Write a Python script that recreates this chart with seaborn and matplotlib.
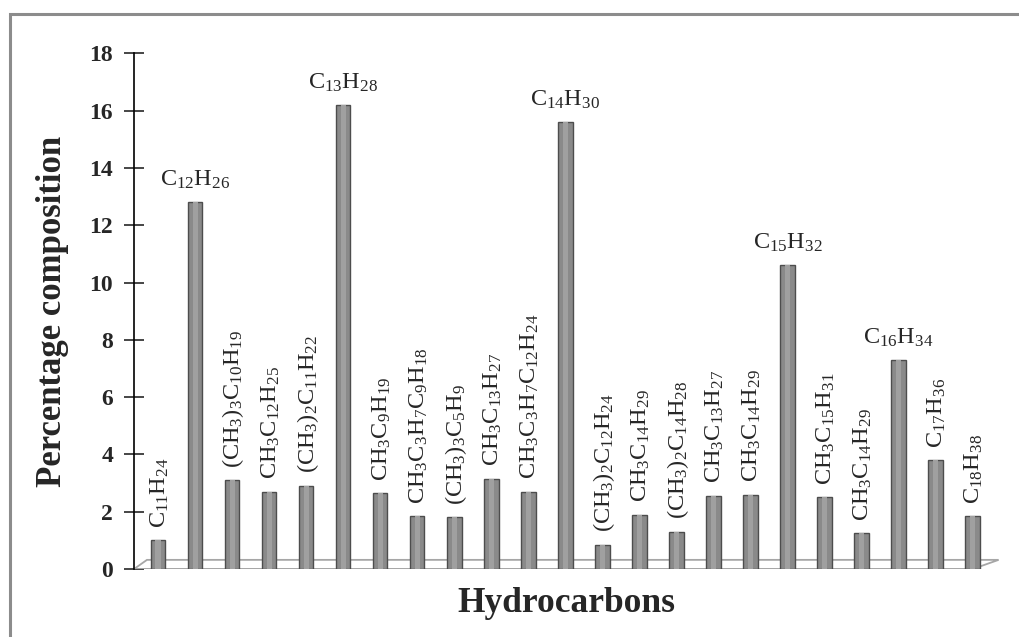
import re
import numpy as np
import pandas as pd
import seaborn as sns
import matplotlib.pyplot as plt
from matplotlib.patches import Rectangle, Polygon

# hydrocarbon composition (percent)
compounds = ['C11H24', 'C12H26', '(CH3)3C10H19', 'CH3C12H25', '(CH3)2C11H22',
             'C13H28', 'CH3C9H19', 'CH3C3H7C9H18', '(CH3)3C5H9', 'CH3C13H27',
             'CH3C3H7C12H24', 'C14H30', '(CH3)2C12H24', 'CH3C14H29', '(CH3)2C14H28',
             'CH3C13H27', 'CH3C14H29', 'C15H32', 'CH3C15H31', 'CH3C14H29',
             'C16H34', 'C17H36', 'C18H38']
percent = [1.0, 12.8, 3.1, 2.7, 2.9,
           16.2, 2.65, 1.85, 1.8, 3.15,
           2.7, 15.6, 0.85, 1.9, 1.3,
           2.55, 2.6, 10.6, 2.5, 1.25,
           7.3, 3.8, 1.85]
# labels written flat above the bar (the n-alkanes), the rest run vertical
flat_labels = ['C12H26', 'C13H28', 'C14H30', 'C15H32', 'C16H34']
y_ticks = list(range(0, 19, 2))

sns.set_style('white')
plt.rcParams['font.family'] = ['Liberation Serif', 'DejaVu Serif']
plt.rcParams['mathtext.fontset'] = 'custom'
plt.rcParams['mathtext.rm'] = 'Liberation Serif'
plt.rcParams['mathtext.it'] = 'Liberation Serif:italic'
plt.rcParams['mathtext.bf'] = 'Liberation Serif:bold'


def to_math(formula):
    """Turn digit runs into subscripts for mathtext"""
    sub = re.sub(r'(\d+)', r'_{\1}', formula)
    return r'$\mathrm{' + sub + '}$'


df = pd.DataFrame({'pos': [str(i) for i in range(len(compounds))],
                   'compound': compounds, 'percent': percent})

fig = plt.figure(figsize=(10.19, 6.37), dpi=100)
ax = fig.add_axes([0.1315, 0.1067, 0.8485, 0.8096])

# 3D-looking floor under the bars
n = len(compounds)
floor = Polygon([[-0.65, 0], [n - 0.65 - 0.35, 0], [n - 0.3, 0.32], [-0.3, 0.32]],
                closed=True, facecolor='white', edgecolor='#a6a6a6', lw=1.3, zorder=1)
ax.add_patch(floor)

sns.barplot(data=df, x='pos', y='percent', color='#8a8a8a', width=0.39,
            edgecolor='#4d4d4d', linewidth=1.0, saturation=1, ax=ax, zorder=3)
# lighter strip to give the bars a cylinder look
sns.barplot(data=df, x='pos', y='percent', color='#a0a0a0', width=0.14,
            linewidth=0, saturation=1, ax=ax, zorder=4)

for i, (name, val) in enumerate(zip(compounds, percent)):
    if name in flat_labels:
        ax.annotate(to_math(name), (i, val), xytext=(0, 8), textcoords='offset points',
                    ha='center', va='bottom', fontsize=17.5)
    else:
        ax.annotate(to_math(name), (i, val), xytext=(1, 9), textcoords='offset points',
                    ha='center', va='bottom', rotation=90, fontsize=17.5)

ax.set_xlim(-0.65, n - 0.3)
ax.set_ylim(0, 18)
ax.set_yticks(y_ticks)
ax.set_yticklabels([str(t) for t in y_ticks], fontsize=17, fontweight='bold')
ax.set_xticks([])
ax.tick_params(axis='y', direction='inout', length=14, width=1.2, left=True, pad=8)
for side in ['top', 'right', 'bottom']:
    ax.spines[side].set_visible(False)
ax.spines['left'].set_color('black')
ax.spines['left'].set_linewidth(1.2)
ax.axhline(0, xmin=0, xmax=(n - 0.65 - 0.35 + 0.65) / (n - 0.3 + 0.65),
           color='#a6a6a6', lw=1.3, zorder=2)

ax.set_xlabel('Hydrocarbons', fontsize=25.5, fontweight='bold', labelpad=13)
ax.set_ylabel('Percentage composition', fontsize=25, fontweight='bold', labelpad=15)

# chart frame
fig.patches.append(Rectangle((10 / 1019, -0.1), 1.2, 1.1 - 14 / 637,
                             transform=fig.transFigure, fill=False,
                             edgecolor='#8c8c8c', lw=2.2, zorder=0))

plt.savefig('out.png', dpi=100)
plt.close()
